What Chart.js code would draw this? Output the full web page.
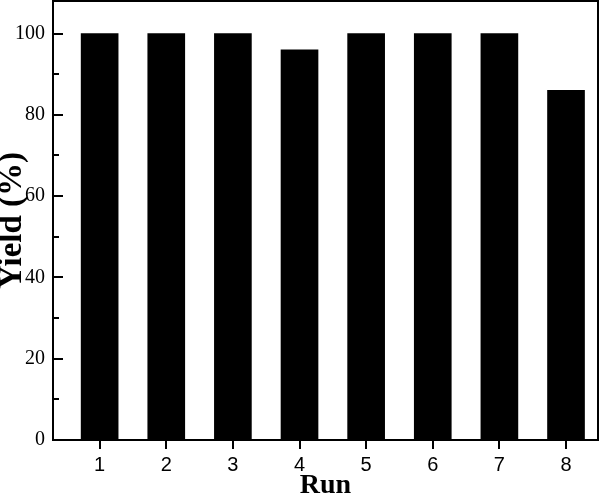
<!DOCTYPE html>
<html>
<head>
<meta charset="utf-8">
<script src="https://cdn.jsdelivr.net/npm/chart.js@4"></script>
<style>
  html, body { margin: 0; padding: 0; background: #fff; }
  #wrap { width: 600px; height: 493px; }
</style>
</head>
<body>
<div id="wrap"><canvas id="c"></canvas></div>
<script>
// ── data ─────────────────────────────────────────────────────────────────────
const runs   = [1, 2, 3, 4, 5, 6, 7, 8]
const yields = [100, 100, 100, 96, 100, 100, 100, 86]
const yTickLabels = ["0", "20", "40", "60", "80", "100"]

// y ticks in this figure point into the plot, so draw them by hand
// from the y scale, plus the closing frame on top and right
const frameAndTicks = {
  id: "frameAndTicks",
  afterDraw(chart) {
    const {ctx, chartArea: a, scales: {y}} = chart
    ctx.save()
    ctx.strokeStyle = "#000"
    ctx.lineWidth = 2
    y.ticks.forEach(t => {
      const py = Math.round(y.getPixelForValue(t.value))
      const len = t.value % 20 === 0 ? 10 : 6
      ctx.beginPath()
      ctx.moveTo(a.left, py)
      ctx.lineTo(a.left + len, py)
      ctx.stroke()
    })
    ctx.beginPath()
    ctx.moveTo(a.left, a.top)
    ctx.lineTo(a.right, a.top)
    ctx.lineTo(a.right, a.bottom)
    ctx.stroke()
    ctx.restore()
  }
}

// keep the plot box fixed: no extra room for edge labels
const noPad = s => {
  s.paddingTop = 0; s.paddingBottom = 0
  s.paddingLeft = 0; s.paddingRight = 0
}

const serif = "'Liberation Serif', 'Times New Roman', serif"
const sans  = "'Liberation Sans', Arial, sans-serif"

new Chart(document.getElementById("c"), {
  type: "bar",
  data: {
    datasets: [{
      data: runs.map((r, i) => ({x: r, y: yields[i]})),
      backgroundColor: "#000",
      borderWidth: 0,
      barThickness: 37
    }]
  },
  options: {
    responsive: true,
    maintainAspectRatio: false,
    animation: false,
    layout: { padding: { top: 1, right: 2, left: 0, bottom: 0 } },
    plugins: { legend: { display: false }, tooltip: { enabled: false } },
    scales: {
      x: {
        type: "linear",
        min: 0.3,
        max: 8.48,
        offset: false,
        afterFit: s => { s.height = 53; noPad(s) },
        border: { color: "#000", width: 2 },
        grid: { offset: false, drawOnChartArea: false, drawTicks: true, tickLength: 9, color: "#000", lineWidth: 2 },
        ticks: {
          stepSize: 1,
          includeBounds: false,
          color: "#000",
          padding: 4,
          font: { family: sans, size: 20 }
        },
        title: {
          display: true,
          text: "Run",
          color: "#000",
          padding: { top: 0, bottom: -7 },
          font: { family: serif, size: 28, weight: "bold", lineHeight: 1 }
        }
      },
      y: {
        min: 0,
        max: 108,
        afterFit: s => { s.width = 53; noPad(s) },
        border: { color: "#000", width: 2 },
        grid: { drawOnChartArea: false, drawTicks: false },
        ticks: {
          stepSize: 10,
          includeBounds: false,
          autoSkip: false,
          color: "#000",
          padding: 8,
          font: { family: serif, size: 20 },
          callback: v => yTickLabels.includes(String(v)) ? String(v) : ""
        },
        title: {
          display: true,
          text: "Yield (%)",
          color: "#000",
          padding: { top: -4, bottom: 0 },
          font: { family: serif, size: 33, weight: "bold", lineHeight: 1 }
        }
      }
    }
  },
  plugins: [frameAndTicks]
})
</script>
</body>
</html>
